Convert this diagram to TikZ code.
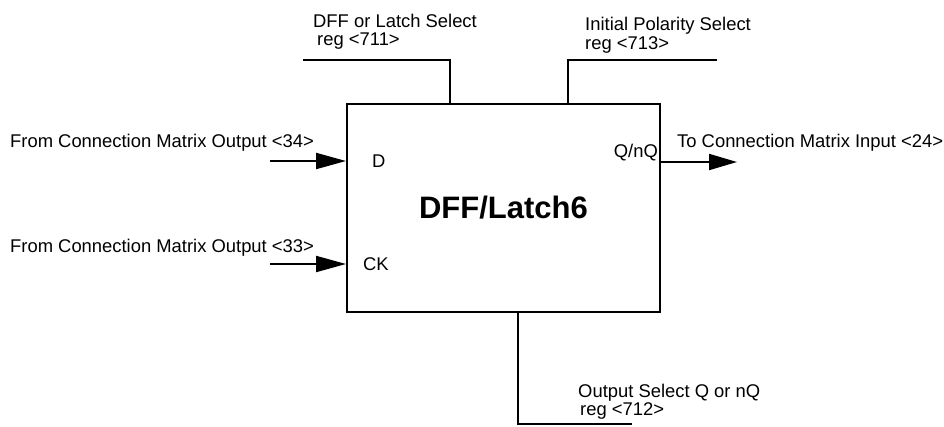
\documentclass[tikz,border=0pt]{standalone}
\usepackage{fontspec}
\setmainfont{Liberation Sans}
\usetikzlibrary{arrows.meta}

\begin{document}
\begin{tikzpicture}[x=1pt,y=-1pt,
    wire/.style={line width=2pt},
    sig/.style={wire,-{Triangle[length=30pt,width=16pt]}},
    lbl/.style={inner sep=0pt,anchor=base west,font=\fontsize{18.4}{20}\selectfont},
  ]
  \useasboundingbox (0,0) rectangle (944,426);

  % the block
  \node[draw,line width=2pt,minimum width=313pt,minimum height=208pt,inner sep=0pt,
        font=\bfseries\fontsize{31}{34}\selectfont] (latch) at (503.5,208) {DFF/Latch6};

  % pin names
  \node[lbl] (dPin) at (372,167) {D};
  \node[lbl] (ckPin) at (363,270) {CK};
  \node[lbl,anchor=base east] (qPin) at (658,157) {Q/nQ};

  % free ends of the wires
  \coordinate (dSrc) at (270,161);
  \coordinate (ckSrc) at (270,264);
  \coordinate (qDst) at (737,162);
  \coordinate (dffEnd) at (303,60);
  \coordinate (dffBend) at (450,60);
  \coordinate (polBend) at (568,60);
  \coordinate (polEnd) at (717,60);
  \coordinate (outBend) at (518,424);
  \coordinate (outEnd) at (632,424);

  \begin{scope}
    \draw[sig] (dSrc) -- (dSrc -| latch.west);
    \draw[sig] (ckSrc) -- (ckSrc -| latch.west);
    \draw[wire,-{Triangle[length=28pt,width=16pt]}] (latch.east |- qDst) -- (qDst);

    \draw[wire] (dffEnd) -- (dffBend) -- (dffBend |- latch.north);
    \draw[wire] (polEnd) -- (polBend) -- (polBend |- latch.north);
    \draw[wire] (outBend |- latch.south) -- (outBend) -- (outEnd);
  \end{scope}

  % signal texts
  \node[lbl] (dSrcLbl) at (10,147) {From Connection Matrix Output <34>};
  \node[lbl] (ckSrcLbl) at (10,252) {From Connection Matrix Output <33>};
  \node[lbl] (qDstLbl) at (677,147) {To Connection Matrix Input <24>};

  \node[lbl] (dffSel) at (313,27) {DFF or Latch Select};
  \node[lbl] (dffReg) at (317,45) {reg <711>};
  \node[lbl] (polSel) at (585,30.5) {Initial Polarity Select};
  \node[lbl] (polReg) at (585,49) {reg <713>};
  \node[lbl] (outSel) at (578,397) {Output Select Q or nQ};
  \node[lbl] (outReg) at (580,415) {reg <712>};
\end{tikzpicture}
\end{document}
